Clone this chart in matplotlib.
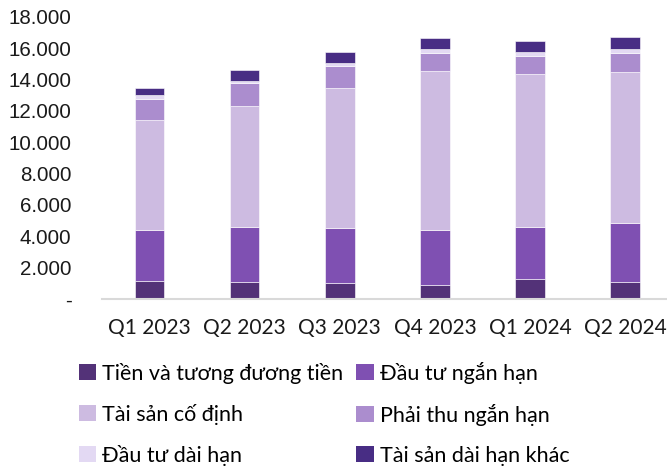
import matplotlib
matplotlib.use("Agg")
import matplotlib.pyplot as plt
from matplotlib.patches import Patch
import numpy as np

categories = ["Q1 2023", "Q2 2023", "Q3 2023", "Q4 2023", "Q1 2024", "Q2 2024"]
series_names = ["Tiền và tương đương tiền", "Đầu tư ngắn hạn", "Tài sản cố định",
                "Phải thu ngắn hạn", "Đầu tư dài hạn", "Tài sản dài hạn khác"]
tien = [1170, 1100, 1040, 910, 1300, 1085]
dau_tu_ngan_han = [3215, 3490, 3490, 3490, 3295, 3765]
tai_san_co_dinh = [7020, 7720, 8950, 10150, 9765, 9640]
phai_thu_ngan_han = [1380, 1450, 1400, 1170, 1170, 1230]
dau_tu_dai_han = [220, 150, 215, 215, 235, 215]
tai_san_dai_han_khac = [480, 680, 660, 740, 680, 810]
y_ticks = [0, 2000, 4000, 6000, 8000, 10000, 12000, 14000, 16000, 18000]
y_tick_labels = ["-", "2.000", "4.000", "6.000", "8.000", "10.000", "12.000", "14.000", "16.000", "18.000"]

colors = ["#533278", "#7F50B2", "#CDBBE1", "#AB8DCE", "#E3D9F3", "#482D84"]
series = [tien, dau_tu_ngan_han, tai_san_co_dinh, phai_thu_ngan_han, dau_tu_dai_han, tai_san_dai_han_khac]

fig = plt.figure(figsize=(6.67, 4.68), dpi=100)
ax = fig.add_axes([102/667, 1 - 299/468, 1 - 102/667, (299 - 17)/468])

x = np.arange(len(categories))
bottom = np.zeros(len(categories))
handles = []
for name, vals, c in zip(series_names, series, colors):
    v = np.array(vals, dtype=float)
    ax.bar(x, v, bottom=bottom, width=0.31, color=c, edgecolor="white", linewidth=0.4)
    bottom += v
    handles.append(Patch(facecolor=c, edgecolor="none", label=name))

ax.set_xlim(-0.5, 5.44)
ax.set_ylim(0, 18000)
ax.set_yticks(y_ticks)
ax.set_yticklabels(y_tick_labels, fontfamily="Liberation Sans", fontsize=14.8)
ax.set_xticks(x)
ax.set_xticklabels(categories, fontfamily="Lato", fontsize=15)
ax.tick_params(axis="both", length=0, colors="#1a1a1a")
ax.tick_params(axis="y", pad=22)
ax.tick_params(axis="x", pad=14)
for s in ["top", "right", "left"]:
    ax.spines[s].set_visible(False)
ax.spines["bottom"].set_color("#d9d9d9")
ax.spines["bottom"].set_linewidth(1.5)

order = [0, 2, 4, 1, 3, 5]
leg = fig.legend([handles[i] for i in order], [series_names[i] for i in order],
                 ncol=2, loc="upper left", bbox_to_anchor=(70/667, 1 - 353/468),
                 frameon=False, prop={"family": "Lato", "size": 15.5},
                 handlelength=0.8, handleheight=0.8, handletextpad=0.3,
                 columnspacing=0.6, labelspacing=0.93, borderaxespad=0)

fig.savefig("out.png", dpi=100)
